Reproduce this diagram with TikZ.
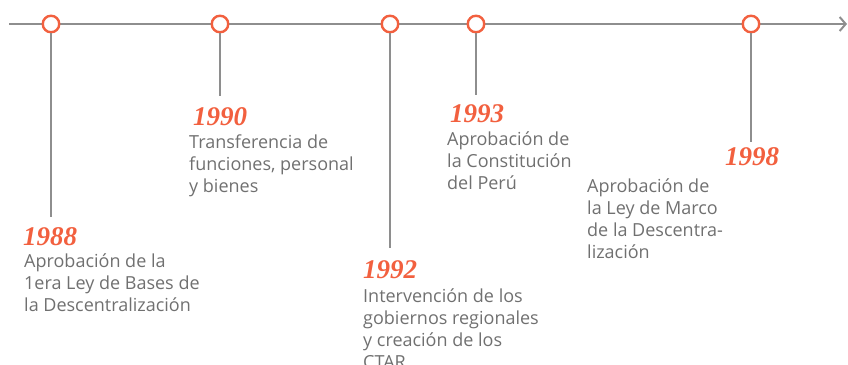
\documentclass[tikz,border=0pt]{standalone}
\usepackage{fontspec}
\setmainfont{Open Sans}
\newfontfamily\yearfont{Liberation Serif}
\usetikzlibrary{arrows.meta}
\definecolor{accent}{HTML}{F2603F}
\definecolor{axis}{HTML}{8E8E8E}
\definecolor{body}{HTML}{707070}
\tikzset{
  dot/.style={circle, draw=accent, line width=2.4pt, fill=white, minimum size=16.5pt, inner sep=0pt},
  stem/.style={draw=axis, line width=1.3pt},
  yr/.style={anchor=base west, inner sep=0pt, text=accent, font=\yearfont\bfseries\itshape\fontsize{27}{27}\selectfont},
  desc/.style={anchor=base west, inner sep=0pt, text=body, font=\fontsize{18}{22}\selectfont}
}
\newcommand{\blk}[1]{\parbox[t]{8cm}{\raggedright #1}}
\begin{document}
\begin{tikzpicture}[x=1pt,y=-1pt]
\useasboundingbox (0,0) rectangle (848,364);
% axis
\coordinate (start) at (9,24);
\coordinate (end) at (847,24);
\draw[draw=axis, line width=2pt, -{Straight Barb[length=6pt,width=14pt,line width=2pt]}] (start) -- (end);
% circles
\node[dot] (d88) at (51,24) {};
\node[dot] (d90) at (220,24) {};
\node[dot] (d92) at (390,24) {};
\node[dot] (d93) at (476,24) {};
\node[dot] (d98) at (751,24) {};
% stem ends
\coordinate (e88) at (51,217);
\coordinate (e90) at (220,96);
\coordinate (e92) at (390,248);
\coordinate (e93) at (476,95);
\coordinate (e98) at (751,142);
\draw[stem] (d88) -- (e88);
\draw[stem] (d90) -- (e90);
\draw[stem] (d92) -- (e92);
\draw[stem] (d93) -- (e93);
\draw[stem] (d98) -- (e98);
% years
\node[yr] (y88) at (23,245) {1988};
\node[yr] (y90) at (193,125) {1990};
\node[yr] (y92) at (363,278) {1992};
\node[yr] (y93) at (450,122) {1993};
\node[yr] (y98) at (725,165) {1998};
% descriptions
\node[desc] (t88) at (24,267) {\blk{Aprobación de la\\1era Ley de Bases de\\la Descentralización}};
\node[desc] (t90) at (189,148) {\blk{Transferencia de\\funciones, personal\\y bienes}};
\node[desc] (t92) at (363,302) {\blk{Intervención de los\\gobiernos regionales\\y creación de los\\CTAR}};
\node[desc] (t93) at (447,145) {\blk{Aprobación de\\la Constitución\\del Perú}};
\node[desc] (t98) at (587,192) {\blk{Aprobación de\\la Ley de Marco\\de la Descentra-\\lización}};
\end{tikzpicture}
\end{document}
